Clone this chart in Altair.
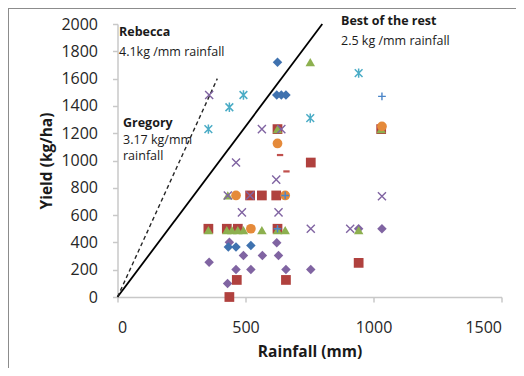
import altair as alt
import pandas as pd

# ---- data ----
blue_diamond_x = [625, 622, 640, 658, 433, 463, 521]
blue_diamond_y = [1720, 1480, 1480, 1480, 367, 367, 377]

red_square_x = [355, 427, 470, 625, 518, 564, 620, 755, 942, 466, 658, 437, 625, 1030]
red_square_y = [500, 500, 500, 500, 744, 744, 744, 985, 250, 125, 125, 0, 1230, 1230]

green_tri_x = [753, 625, 1030, 355, 427, 447, 470, 492, 564, 625, 655, 942, 431]
green_tri_y = [1720, 1230, 1230, 490, 490, 490, 490, 490, 490, 490, 490, 490, 744]

purple_x_x = [358, 564, 640, 463, 620, 431, 518, 486, 629, 755, 909, 1033]
purple_x_y = [1480, 1230, 1230, 985, 860, 744, 744, 620, 620, 500, 500, 738]

cyan_star_x = [355, 437, 492, 753, 942]
cyan_star_y = [1230, 1390, 1480, 1310, 1640]

orange_circle_x = [625, 463, 655, 521, 1033]
orange_circle_y = [1125, 744, 744, 500, 1250]

blue_plus_x = [1033, 655, 625]
blue_plus_y = [1470, 744, 500]

red_dash_x = [635, 660]
red_dash_y = [1040, 920]

purple_diamond_x = [437, 622, 492, 566, 629, 358, 463, 521, 658, 755, 430, 942, 1033]
purple_diamond_y = [401, 397, 304, 304, 304, 255, 201, 201, 201, 201, 99, 500, 500]

best_line_x = [0, 800]
best_line_y = [0, 2000]
rebecca_line_x = [0, 390]
rebecca_line_y = [0, 1600]

x_ticks = [0, 500, 1000, 1500]
y_ticks = list(range(0, 2001, 200))

FONT = "Open Sans"

xs = alt.Scale(domain=[0, 1500], nice=False, zero=True)
ys = alt.Scale(domain=[0, 2000], nice=False, zero=True)

x_axis = alt.Axis(values=x_ticks, title="Rainfall (mm)", grid=False, format="d",
                  labelOverlap=False, labelPadding=17, tickSize=5, titlePadding=9)
y_axis = alt.Axis(values=y_ticks, title="Yield (kg/ha)", grid=False, format="d",
                  labelOverlap=False, labelPadding=15, tickSize=5, titlePadding=6)


def df(xv, yv):
    return pd.DataFrame({"x": xv, "y": yv})


def enc(ch):
    return ch.encode(x=alt.X("x:Q", scale=xs, axis=x_axis),
                     y=alt.Y("y:Q", scale=ys, axis=y_axis))


X_PATH = "M-1,-1L1,1M-1,1L1,-1"
STAR_PATH = "M-1,-1L1,1M-1,1L1,-1M0,-1.2L0,1.2"
PLUS_PATH = "M-1,0L1,0M0,-1L0,1"
DASH_PATH = "M-1,-0.35L1,-0.35L1,0.35L-1,0.35Z"

best = enc(alt.Chart(df(best_line_x, best_line_y)).mark_line(color="black", strokeWidth=1.8))
reb = enc(alt.Chart(df(rebecca_line_x, rebecca_line_y)).mark_line(color="#262626", strokeWidth=1.4, strokeDash=[4, 3]))

layers = [best, reb]

layers.append(enc(alt.Chart(df(purple_diamond_x, purple_diamond_y)).mark_point(
    shape="diamond", filled=True, size=90, color="#8064A2", opacity=1)))
layers.append(enc(alt.Chart(df(blue_diamond_x, blue_diamond_y)).mark_point(
    shape="diamond", filled=True, size=90, color="#3F72AF", opacity=1)))
layers.append(enc(alt.Chart(df(red_square_x, red_square_y)).mark_point(
    shape="square", filled=True, size=95, color="#B0413E", opacity=1)))
layers.append(enc(alt.Chart(df(green_tri_x, green_tri_y)).mark_point(
    shape="triangle-up", filled=True, size=90, color="#8DB04F", opacity=1)))
layers.append(enc(alt.Chart(df(orange_circle_x, orange_circle_y)).mark_point(
    shape="circle", filled=True, size=95, color="#E58A3A", opacity=1)))
layers.append(enc(alt.Chart(df(purple_x_x, purple_x_y)).mark_point(
    shape=X_PATH, filled=False, size=65, color="#8064A2", strokeWidth=1.4, opacity=1)))
layers.append(enc(alt.Chart(df(cyan_star_x, cyan_star_y)).mark_point(
    shape=STAR_PATH, filled=False, size=60, color="#4BACC6", strokeWidth=1.5, opacity=1)))
layers.append(enc(alt.Chart(df(blue_plus_x, blue_plus_y)).mark_point(
    shape=PLUS_PATH, filled=False, size=60, color="#4A85C8", strokeWidth=1.4, opacity=1)))
layers.append(enc(alt.Chart(df(red_dash_x, red_dash_y)).mark_point(
    shape=DASH_PATH, filled=True, size=40, color="#C0504D", opacity=1)))


def label(text, px, py, bold=False):
    return alt.Chart(pd.DataFrame({"t": [text]})).mark_text(
        align="left", baseline="middle", font=FONT, fontSize=12.5,
        fontWeight="bold" if bold else "normal", color="#1a1a1a"
    ).encode(text="t:N", x=alt.value(px), y=alt.value(py))


layers += [
    label("Rebecca", 1.5, 8, True),
    label("4.1kg /mm rainfall", 1.5, 28),
    label("Gregory", 5.5, 99, True),
    label("3.17 kg/mm", 5.5, 115.5),
    label("rainfall", 5.5, 132),
    label("Best of the rest", 223.5, -3, True),
    label("2.5 kg /mm rainfall", 223.5, 17),
]

# frame lines of the original figure
frame_left = alt.Chart(pd.DataFrame({"a": [0]})).mark_rule(color="#8c8c8c", strokeWidth=1).encode(
    x=alt.value(-109), y=alt.value(-16), y2=alt.value(360))
frame_top = alt.Chart(pd.DataFrame({"a": [0]})).mark_rule(color="#8c8c8c", strokeWidth=1).encode(
    x=alt.value(-109), x2=alt.value(420), y=alt.value(-15.5))
layers += [frame_left, frame_top]

chart = alt.layer(*layers).properties(
    width=384, height=273,
    autosize=alt.AutoSizeParams(type="none"),
    padding={"left": 109.5, "top": 16, "right": 14.5, "bottom": 71},
    background="white",
).configure_view(stroke=None).configure_axis(
    labelFont=FONT, labelFontSize=16, labelColor="#262626",
    titleFont=FONT, titleFontSize=15.5, titleFontWeight="bold", titleColor="#1a1a1a",
    domainColor="#C8C8C8", tickColor="#C8C8C8", domainWidth=1.5, tickWidth=1.5,
)

chart.save("out.html", embed_options={"renderer": "svg", "actions": False})
